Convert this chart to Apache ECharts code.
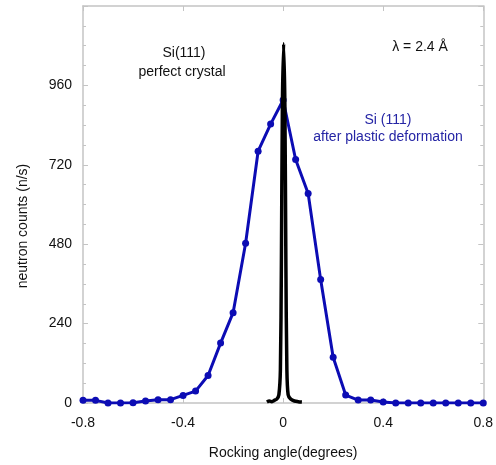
<!DOCTYPE html>
<html>
<head>
<meta charset="utf-8">
<script src="https://cdn.jsdelivr.net/npm/echarts@6/dist/echarts.min.js"></script>
<style>
  html, body { margin: 0; padding: 0; background: #fff; }
  #main { width: 496px; height: 465px; }
</style>
</head>
<body>
<div id="main"></div>
<script>
// 形变后 Si(111) 摇摆曲线，每 0.05 度一个点
var blueAngles = [-0.8, -0.75, -0.7, -0.65, -0.6, -0.55, -0.5, -0.45, -0.4, -0.35, -0.3, -0.25, -0.2, -0.15, -0.1, -0.05,
    0, 0.05, 0.1, 0.15, 0.2, 0.25, 0.3, 0.35, 0.4, 0.45, 0.5, 0.55, 0.6, 0.65, 0.7, 0.75, 0.8];
var blueCounts = [8, 8, 0, 0, 1, 6, 10, 10, 23, 36, 83, 181, 273, 483, 761, 843,
    916, 736, 633, 373, 138, 24, 9, 9, 3, 0, 0, 0, 0, 0, 0, 0, 0];

// 完美晶体 Si(111)
var blackAngles = [-0.065, -0.055, -0.045, -0.035, -0.025, -0.017, -0.011, -0.007, -0.003, 0.002, 0.007, 0.011, 0.015, 0.02, 0.03, 0.045, 0.06, 0.075];
var blackCounts = [3, 6, 4, 8, 12, 25, 100, 420, 900, 1086, 900, 420, 100, 25, 12, 6, 4, 3];

var xTicks = [-0.8, -0.4, 0, 0.4, 0.8];
var yTicks = [0, 240, 480, 720, 960];

function pairs(xs, ys) {
    return xs.map(function(x, i) { return [x, ys[i]]; });
}

var font = 'Liberation Sans, Arial, sans-serif';
var axisGrey = '#c4c4c4';

var myChart = echarts.init(document.getElementById('main'));
myChart.setOption({
    animation: false,
    backgroundColor: '#fff',
    grid: { left: 83, right: 11, top: 6, bottom: 59 },
    xAxis: [{
        type: 'value',
        min: -0.8, max: 0.8, interval: 0.4,
        axisLine: { onZero: false, lineStyle: { color: axisGrey, width: 1.5 } },
        axisTick: { inside: true, length: 5, lineStyle: { color: axisGrey } },
        splitLine: { show: false },
        axisLabel: {
            color: '#111', fontSize: 14, fontFamily: font, margin: 13,
            formatter: function(v) { return xTicks.indexOf(+v.toFixed(1)) >= 0 ? String(+v.toFixed(1)) : ''; }
        },
        name: 'Rocking angle(degrees)',
        nameLocation: 'middle',
        nameGap: 43,
        nameTextStyle: { color: '#111', fontSize: 14, fontFamily: font }
    }, {
        type: 'value', position: 'top',
        min: -0.8, max: 0.8, interval: 0.4,
        axisLine: { show: true, onZero: false, lineStyle: { color: axisGrey, width: 1.5 } },
        axisTick: { show: true, inside: true, length: 5, lineStyle: { color: axisGrey } },
        axisLabel: { show: false },
        splitLine: { show: false }
    }],
    yAxis: [{
        type: 'value',
        min: 0, max: 1200, interval: 240,
        axisLine: { show: true, onZero: false, lineStyle: { color: axisGrey, width: 1.5 } },
        axisTick: { show: true, inside: true, length: 5, lineStyle: { color: axisGrey } },
        minorTick: { show: true, splitNumber: 4, length: 3, lineStyle: { color: axisGrey } },
        splitLine: { show: false },
        axisLabel: {
            color: '#111', fontSize: 14, fontFamily: font, margin: 11,
            formatter: function(v) { return yTicks.indexOf(v) >= 0 ? String(v) : ''; }
        }
    }, {
        type: 'value', position: 'right',
        min: 0, max: 1200, interval: 240,
        axisLine: { show: true, onZero: false, lineStyle: { color: axisGrey, width: 1.5 } },
        axisTick: { show: true, inside: true, length: 5, lineStyle: { color: axisGrey } },
        minorTick: { show: true, splitNumber: 4, length: 3, lineStyle: { color: axisGrey } },
        axisLabel: { show: false },
        splitLine: { show: false }
    }],
    series: [{
        name: 'deformed',
        type: 'line',
        data: pairs(blueAngles, blueCounts),
        symbol: 'circle',
        symbolSize: 7,
        lineStyle: { color: '#0c0cb4', width: 3 },
        itemStyle: { color: '#0c0cb4' },
        z: 3
    }, {
        name: 'perfect',
        type: 'line',
        data: pairs(blackAngles, blackCounts),
        showSymbol: false,
        smooth: 0.3,
        lineStyle: { color: '#000', width: 3.5 },
        z: 4
    }],
    graphic: [
        { type: 'text', position: [184, 53], style: { text: 'Si(111)', fill: '#111', font: '14px ' + font, textAlign: 'center', textVerticalAlign: 'middle' } },
        { type: 'text', position: [182, 72], style: { text: 'perfect crystal', fill: '#111', font: '14px ' + font, textAlign: 'center', textVerticalAlign: 'middle' } },
        { type: 'text', position: [420, 47], style: { text: 'λ = 2.4 Å', fill: '#111', font: '14px ' + font, textAlign: 'center', textVerticalAlign: 'middle' } },
        { type: 'text', position: [388, 120], style: { text: 'Si (111)', fill: '#2525a5', font: '14px ' + font, textAlign: 'center', textVerticalAlign: 'middle' } },
        { type: 'text', position: [388, 137], style: { text: 'after plastic deformation', fill: '#2525a5', font: '14px ' + font, textAlign: 'center', textVerticalAlign: 'middle' } },
        { type: 'text', position: [23, 226], rotation: Math.PI / 2, style: { text: 'neutron counts (n/s)', fill: '#111', font: '14px ' + font, textAlign: 'center', textVerticalAlign: 'middle' } }
    ]
});
</script>
</body>
</html>
